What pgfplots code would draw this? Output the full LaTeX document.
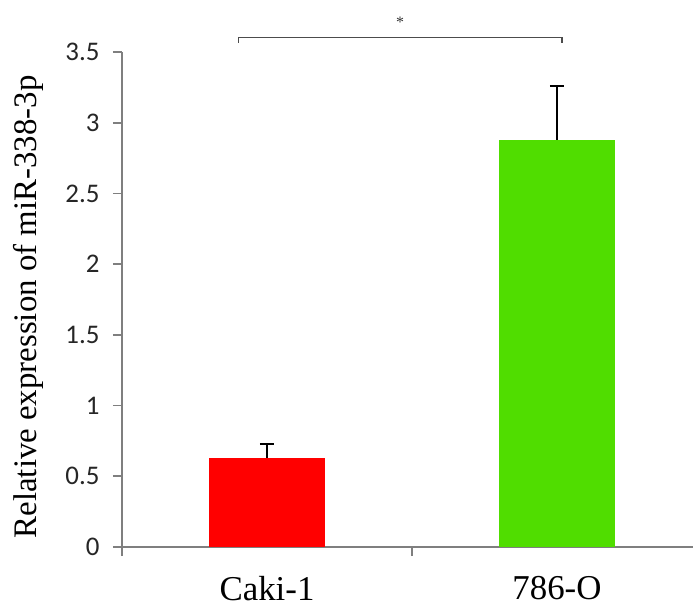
\documentclass[border=0pt]{standalone}
\usepackage{fontspec}
\setmainfont{Liberation Serif}
\newfontfamily\carlito{Carlito}
\usepackage{pgfplots}
\pgfplotsset{compat=1.18}
\definecolor{barred}{HTML}{FF0000}
\definecolor{bargreen}{HTML}{50DD00}
\definecolor{axisgray}{HTML}{7F7F7F}

\begin{document}
\begin{tikzpicture}
  \path[use as bounding box] (-122bp,-60bp) rectangle (571bp,547bp);
  \begin{axis}[
    at={(0,0)}, anchor=south west,
    scale only axis,
    width=571bp, height=495bp,
    xmin=-0.5, xmax=1.469,
    ymin=0, ymax=3.5,
    ybar, bar width=0.4,
    axis x line*=bottom,
    axis y line*=left,
    axis line style={axisgray, line width=1.4bp},
    tick align=outside,
    tick style={draw=axisgray, line width=1.6bp},
    xtick={-0.5,0.5},
    xticklabels={},
    extra x ticks={0,1},
    extra x tick labels={Caki-1,786-O},
    extra x tick style={tick style={draw=none},
      xticklabel style={font=\fontsize{35}{35}\selectfont, yshift=-17bp}},
    ytick={0,0.5,...,3.5},
    yticklabel style={font=\carlito\fontsize{27}{27}\selectfont, text=black!85,
      /pgf/number format/fixed, xshift=-10bp},
    /pgf/number format/assume math mode=true,
    major tick length=9bp,
    ylabel={Relative expression of miR-338-3p},
    ylabel style={font=\fontsize{33}{33}\selectfont, at={(axis description cs:-0.1646,0.485)}, anchor=center},
    clip=false,
    error bars/y dir=plus,
    error bars/y explicit,
    error bars/error bar style={black, line width=1.6bp},
    error bars/error mark options={rotate=90, mark size=7bp, line width=1.6bp, black},
  ]
    \addplot[fill=barred, draw=none, bar shift=0pt] coordinates {(0,0.63) +- (0,0.10)};
    \addplot[fill=bargreen, draw=none, bar shift=0pt] coordinates {(1,2.88) +- (0,0.38)};
    \draw[black!70, line width=1.2bp] (axis cs:-0.097,3.565) -- (axis cs:-0.097,3.60) -- (axis cs:1.017,3.60) -- (axis cs:1.017,3.565);
    \node[font=\fontsize{16}{16}\selectfont, text=black!80] at (axis cs:0.459,3.71) {*};
  \end{axis}
\end{tikzpicture}
\end{document}
